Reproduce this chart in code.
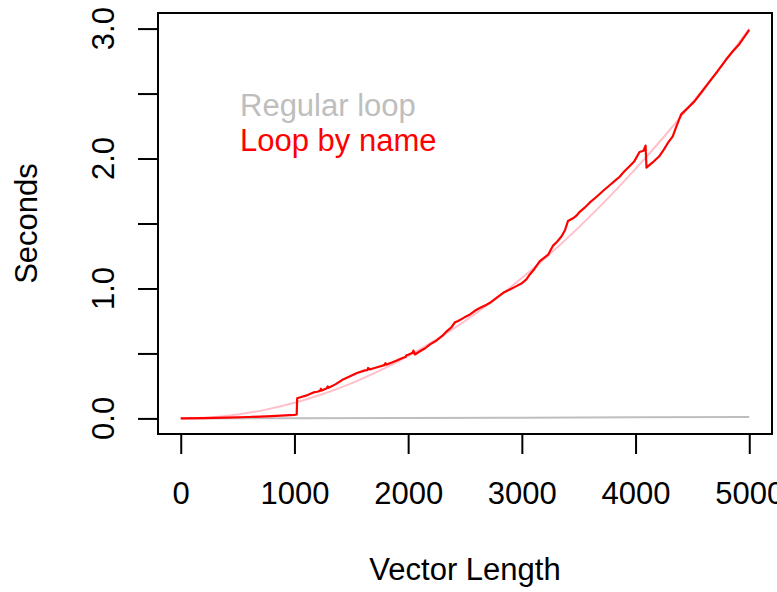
<!DOCTYPE html>
<html>
<head>
<meta charset="utf-8">
<script src="https://cdn.jsdelivr.net/npm/d3@7"></script>
<style>
  body { margin: 0; background: #fff; }
  text { font-family: 'Liberation Sans', Arial, Helvetica, sans-serif; }
</style>
</head>
<body>
<div id="chart"></div>
<script>
// vector length vs seconds
const regularLen = [0, 1000, 2000, 3000, 4000, 5000]
const regularSec = [0, 0.002, 0.004, 0.006, 0.008, 0.01]

const byNameLen = [0, 200, 400, 600, 800, 1000, 1020, 1024, 1060, 1100, 1167, 1200, 1225, 1232, 1240, 1285, 1292, 1300,
  1360, 1418, 1480, 1550, 1620, 1640, 1648, 1660, 1750, 1790, 1800, 1808, 1857, 1900, 1950, 1975, 1985, 2000,
  2040, 2046, 2060, 2100, 2150, 2193, 2250, 2300, 2339, 2380, 2412, 2440, 2480, 2510, 2544, 2590, 2630, 2680,
  2719, 2780, 2836, 2890, 2953, 3000, 3040, 3070, 3110, 3158, 3231, 3275, 3310, 3348, 3380, 3406, 3450, 3480,
  3509, 3550, 3596, 3650, 3713, 3780, 3820, 3860, 3900, 3947, 3990, 4035, 4070, 4088, 4096, 4150, 4211, 4250,
  4284, 4327, 4360, 4401, 4460, 4518, 4580, 4649, 4720, 4795, 4850, 4912, 4960, 5000]
const byNameSec = [0, 0.002, 0.006, 0.011, 0.018, 0.027, 0.03, 0.155, 0.165, 0.175, 0.2, 0.205, 0.212, 0.228, 0.214, 0.232, 0.246, 0.236,
  0.262, 0.295, 0.32, 0.35, 0.37, 0.372, 0.388, 0.376, 0.4, 0.41, 0.425, 0.414, 0.43, 0.445, 0.465, 0.472, 0.486, 0.49,
  0.505, 0.522, 0.492, 0.515, 0.54, 0.57, 0.6, 0.635, 0.67, 0.7, 0.74, 0.75, 0.77, 0.785, 0.8, 0.83, 0.85, 0.87,
  0.89, 0.93, 0.967, 0.99, 1.018, 1.04, 1.07, 1.108, 1.15, 1.21, 1.26, 1.33, 1.36, 1.4, 1.45, 1.52, 1.54, 1.56,
  1.59, 1.62, 1.66, 1.7, 1.75, 1.8, 1.83, 1.86, 1.9, 1.94, 1.98, 2.05, 2.06, 2.1, 1.93, 1.97, 2.02, 2.07,
  2.12, 2.17, 2.25, 2.34, 2.39, 2.44, 2.51, 2.59, 2.67, 2.76, 2.82, 2.88, 2.94, 2.99]

// smooth fitted curve drawn in pink
const fitLen = [0, 250, 500, 750, 1000, 1250, 1500, 1750, 2000, 2250, 2500, 2750, 3000, 3250, 3500, 3750, 4000, 4250, 4500, 4750, 5000]
const fitSec = [0, 0.0075, 0.03, 0.0675, 0.12, 0.1875, 0.27, 0.3675, 0.48, 0.6075, 0.75, 0.9075, 1.08, 1.2675, 1.47, 1.6875, 1.92, 2.1675, 2.43, 2.7075, 3.0]

const xTicks = [0, 1000, 2000, 3000, 4000, 5000]
const yTicks = [0, 0.5, 1, 1.5, 2, 2.5, 3]
const yLabels = [0, 1, 2, 3]

const width = 777
const height = 592
const margin = { top: 13, left: 158, right: 5, bottom: 158 }
const fontSize = 31

const svg = d3
  .select('#chart')
  .append('svg')
  .attr('width', width)
  .attr('height', height)

const x = d3
  .scaleLinear()
  .domain([-200, 5200])
  .range([margin.left, width - margin.right])

const y = d3
  .scaleLinear()
  .domain([-0.12, 3.12])
  .range([height - margin.bottom, margin.top])

const line = d3
  .line()
  .x(d => x(d[0]))
  .y(d => y(d[1]))

const lineSmooth = d3
  .line()
  .curve(d3.curveMonotoneX)
  .x(d => x(d[0]))
  .y(d => y(d[1]))

svg
  .append('path')
  .datum(d3.zip(regularLen, regularSec))
  .attr('d', line)
  .attr('fill', 'none')
  .attr('stroke', '#bebebe')
  .attr('stroke-width', 2)

svg
  .append('path')
  .datum(d3.zip(fitLen, fitSec))
  .attr('d', lineSmooth)
  .attr('fill', 'none')
  .attr('stroke', '#ffc0cb')
  .attr('stroke-width', 2)

svg
  .append('path')
  .datum(d3.zip(byNameLen, byNameSec))
  .attr('d', line)
  .attr('fill', 'none')
  .attr('stroke', '#ff0000')
  .attr('stroke-width', 2.2)
  .attr('stroke-linejoin', 'round')

// plot box
svg
  .append('rect')
  .attr('x', x.range()[0])
  .attr('y', y.range()[1])
  .attr('width', x.range()[1] - x.range()[0])
  .attr('height', y.range()[0] - y.range()[1])
  .attr('fill', 'none')
  .attr('stroke', 'black')
  .attr('stroke-width', 2)

// x axis
const xAxis = svg
  .append('g')
  .attr('transform', `translate(0,${y.range()[0]})`)
  .call(
    d3
      .axisBottom(x)
      .tickValues(xTicks)
      .tickSize(20)
      .tickPadding(28)
      .tickFormat(d3.format('d'))
  )
xAxis.select('.domain').attr('d', `M${x(0)},0H${x(5000)}`).attr('stroke-width', 2)
xAxis.selectAll('.tick line').attr('stroke-width', 2)
xAxis
  .selectAll('.tick text')
  .attr('font-size', fontSize)
  .attr('fill', 'black')
  .style('font-family', "'Liberation Sans', Arial, sans-serif")

// y axis
const yAxis = svg
  .append('g')
  .attr('transform', `translate(${x.range()[0]},0)`)
  .call(
    d3
      .axisLeft(y)
      .tickValues(yTicks)
      .tickSize(20)
      .tickFormat('')
  )
yAxis.select('.domain').attr('d', `M0,${y(0)}V${y(3)}`).attr('stroke-width', 2)
yAxis.selectAll('.tick line').attr('stroke-width', 2)

svg
  .selectAll('.ylab')
  .data(yLabels)
  .enter()
  .append('text')
  .attr('class', 'ylab')
  .attr('transform', d => `translate(114,${y(d)}) rotate(-90)`)
  .attr('text-anchor', 'middle')
  .attr('font-size', fontSize)
  .text(d3.format('.1f'))

svg
  .append('text')
  .attr('x', (x(0) + x(5000)) / 2)
  .attr('y', 580)
  .attr('text-anchor', 'middle')
  .attr('font-size', fontSize)
  .text('Vector Length')

svg
  .append('text')
  .attr('transform', `translate(37,${(y(0) + y(3)) / 2}) rotate(-90)`)
  .attr('text-anchor', 'middle')
  .attr('font-size', fontSize)
  .text('Seconds')

// legend
const legend = svg.append('g').attr('transform', 'translate(240,116)')
legend
  .selectAll('text')
  .data([['Regular loop', '#bebebe'], ['Loop by name', '#ff0000']])
  .enter()
  .append('text')
  .attr('y', (d, i) => i * 35)
  .attr('font-size', fontSize)
  .attr('fill', d => d[1])
  .text(d => d[0])
</script>
</body>
</html>
